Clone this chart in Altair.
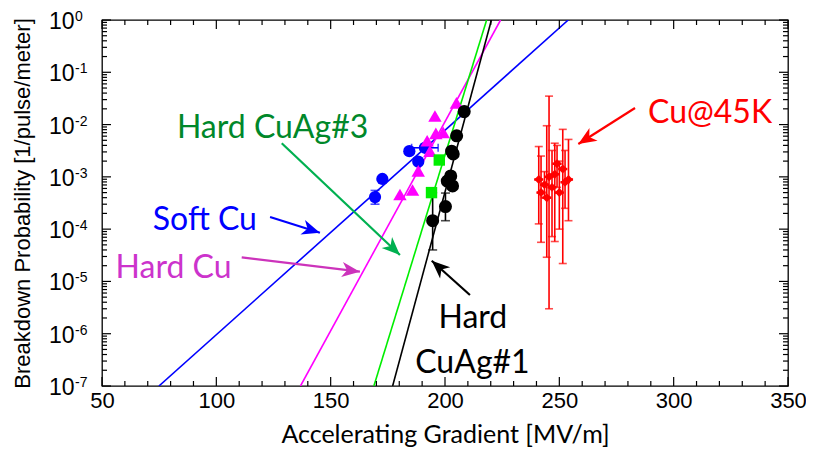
import math
import altair as alt
import pandas as pd

W, H = 686, 366
XMIN, XMAX = 50, 350
YMIN, YMAX = 1e-7, 1.0

# ---------------- data ----------------
soft_x = [169.4, 172.6, 184.4, 188.3, 191.2]
soft_y = [4.1e-4, 9.1e-4, 3.1e-3, 1.95e-3, 3.6e-3]

hardcu_x = [180.3, 185.8, 188.3, 193.4, 192.2, 196.0, 199.2, 195.6, 205.0]
hardcu_y = [4.6e-4, 5.6e-4, 1.3e-3, 3.1e-3, 4.9e-3, 6.8e-3, 7.1e-3, 1.46e-2, 2.6e-2]

cuag3_x = [197.5, 194.1]
cuag3_y = [2.1e-3, 5.0e-4]

cuag1_x = [208.4, 205.1, 202.9, 203.6, 202.5, 201.0, 203.3, 200.2, 194.6]
cuag1_y = [1.77e-2, 6.1e-3, 3.1e-3, 2.75e-3, 1.04e-3, 8.3e-4, 6.7e-4, 2.7e-4, 1.45e-4]

cu45_x = [241.0, 242.0, 243.5, 244.5, 245.5, 246.8, 248.0, 249.0, 250.0, 251.5, 252.5, 254.0]
cu45_y = [8.9e-4, 5.0e-4, 7.1e-4, 4.0e-4, 1.0e-3, 6.3e-4, 1.12e-3, 1.78e-3, 5.0e-4, 1.41e-3, 7.9e-4, 8.9e-4]
cu45_hi = [3.8e-3, 2.5e-3, 1.26e-3, 9.5e-3, 3.5e-2, 3.2e-3, 4.4e-3, 4.0e-3, 2.0e-3, 8.1e-3, 3.2e-3, 5.2e-3]
cu45_lo = [1.26e-4, 5.6e-5, 4.0e-4, 2.9e-5, 3.0e-6, 7.2e-5, 5.8e-5, 6.3e-4, 1.0e-4, 2.2e-5, 2.5e-4, 1.45e-4]
cu45_xerr = 2.0

# vertical error bars of other series: x, low, high
verr_x = [169.4, 200.2, 194.6]
verr_lo = [3.0e-4, 1.45e-4, 4.0e-5]
verr_hi = [5.5e-4, 4.9e-4, 5.0e-4]
verr_c = ["#0000ff", "#000000", "#000000"]

# horizontal error bars: y, low x, high x
herr_y = [3.6e-3]
herr_lo = [185.4]
herr_hi = [197.0]
herr_c = ["#0000ff"]

# fit lines: x where the fit reaches 1e-7 and 1e0
fit_names = ["Soft Cu", "Hard Cu", "Hard CuAg#3", "Hard CuAg#1"]
fit_x_low = [74.9, 136.8, 168.9, 177.1]
fit_x_high = [253.9, 224.3, 218.2, 220.3]
fit_colors = ["#0000ff", "#ff00ff", "#00ee00", "#000000"]

# annotations
lab_text = ["Hard CuAg#3", "Soft Cu", "Hard Cu", "Hard", "CuAg#1", "Cu@45K"]
lab_x = [124.6, 95.0, 81.3, 212.2, 212.0, 288.8]
lab_y = [10 ** -2.257, 10 ** -4.016, 10 ** -4.934, 10 ** -5.89, 10 ** -6.75, 10 ** -1.97]
lab_align = ["center", "center", "center", "center", "center", "left"]
lab_color = ["#00882a", "#0000ff", "#cc33cc", "#000000", "#000000", "#ff0000"]

arr_x = [128.6, 123.5, 111.1, 210.9, 283.1]
arr_y = [10 ** -2.358, 10 ** -3.768, 10 ** -4.539, 10 ** -5.26, 10 ** -1.683]
arr_x2 = [180.3, 145.3, 162.8, 194.2, 258.3]
arr_y2 = [10 ** -4.494, 10 ** -4.068, 10 ** -4.814, 10 ** -4.604, 10 ** -2.372]
arr_color = ["#00b050", "#0000ff", "#cc33bb", "#000000", "#ff0000"]

y_exps = [0, -1, -2, -3, -4, -5, -6, -7]
x_labels = [50, 100, 150, 200, 250, 300, 350]

# ---------------- helpers ----------------
xs = alt.Scale(domain=[XMIN, XMAX], nice=False, zero=False)
ys = alt.Scale(type="log", domain=[YMIN, YMAX], nice=False)
xax = alt.Axis(values=x_labels, format="d", ticks=False, domain=False, grid=False,
               labelFont="Liberation Sans", labelFontSize=22, labelColor="black",
               labelPadding=4, labelFlush=False,
               title="Accelerating Gradient [MV/m]", titleFont="Lato",
               titleFontSize=25, titleFontWeight="normal", titleColor="black",
               titleX=W / 2, titleY=56, titleAlign="center",
               titleBaseline="alphabetic")
yax = alt.Axis(labels=False, ticks=False, domain=False, grid=False,
               title="Breakdown Probability [1/pulse/meter]",
               titleFont="Liberation Sans", titleFontSize=22,
               titleFontWeight="normal", titleColor="black",
               titleX=-80, titleY=H / 2, titleAlign="center", titleBaseline="middle")


def X(f):
    return alt.X(f, type="quantitative", scale=xs, axis=xax)


def Y(f):
    return alt.Y(f, type="quantitative", scale=ys, axis=yax)


def px(x):
    return (x - XMIN) / (XMAX - XMIN) * W


def py(y):
    return (math.log10(YMAX) - math.log10(y)) / (math.log10(YMAX) - math.log10(YMIN)) * H


layers = []

# fit lines
fit_rows = []
for n, a, b, c in zip(fit_names, fit_x_low, fit_x_high, fit_colors):
    fit_rows.append({"name": n, "x": a, "y": YMIN, "c": c})
    fit_rows.append({"name": n, "x": b, "y": YMAX, "c": c})
fit_df = pd.DataFrame(fit_rows)
layers.append(alt.Chart(fit_df).mark_line(strokeWidth=1.6, clip=True).encode(
    x=X("x"), y=Y("y"), detail="name:N", color=alt.Color("c:N", scale=None)))

# arrows
angs = []
for a, b, c, d in zip(arr_x, arr_y, arr_x2, arr_y2):
    dx = px(c) - px(a)
    dy = py(d) - py(b)
    angs.append(math.degrees(math.atan2(dx, -dy)) % 360)
arr_df = pd.DataFrame({"x": arr_x, "y": arr_y, "x2": arr_x2, "y2": arr_y2,
                       "c": arr_color, "ang": angs})
layers.append(alt.Chart(arr_df).mark_rule(strokeWidth=2.2).encode(
    x=X("x"), y=Y("y"), x2=alt.X2("x2"), y2=alt.Y2("y2"),
    color=alt.Color("c:N", scale=None)))
head = "M0,0 L0.42,1 L0,0.72 L-0.42,1 Z"
layers.append(alt.Chart(arr_df).mark_point(shape=head, filled=True, size=1300, opacity=1,
                                           strokeWidth=0).encode(
    x=X("x2"), y=Y("y2"), angle=alt.Angle("ang:Q", scale=None),
    color=alt.Color("c:N", scale=None)))

# Cu@45K error bars
cu_df = pd.DataFrame({"x": cu45_x, "y": cu45_y, "lo": cu45_lo, "hi": cu45_hi,
                      "xl": [v - cu45_xerr for v in cu45_x],
                      "xh": [v + cu45_xerr for v in cu45_x]})
red = "#ff0000"
layers.append(alt.Chart(cu_df).mark_rule(color=red, strokeWidth=1.6).encode(
    x=X("x"), y=Y("lo"), y2=alt.Y2("hi")))
layers.append(alt.Chart(cu_df).mark_rule(color=red, strokeWidth=2.5).encode(
    x=X("xl"), x2=alt.X2("xh"), y=Y("y")))
layers.append(alt.Chart(cu_df).mark_tick(color=red, orient="horizontal", size=8, thickness=1.6).encode(
    x=X("x"), y=Y("lo")))
layers.append(alt.Chart(cu_df).mark_tick(color=red, orient="horizontal", size=8, thickness=1.6).encode(
    x=X("x"), y=Y("hi")))

# other error bars
ve_df = pd.DataFrame({"x": verr_x, "lo": verr_lo, "hi": verr_hi, "c": verr_c})
layers.append(alt.Chart(ve_df).mark_rule(strokeWidth=1.6).encode(
    x=X("x"), y=Y("lo"), y2=alt.Y2("hi"), color=alt.Color("c:N", scale=None)))
for col in ["lo", "hi"]:
    layers.append(alt.Chart(ve_df).mark_tick(orient="horizontal", size=9, thickness=1.6).encode(
        x=X("x"), y=Y(col), color=alt.Color("c:N", scale=None)))
he_df = pd.DataFrame({"y": herr_y, "lo": herr_lo, "hi": herr_hi, "c": herr_c})
layers.append(alt.Chart(he_df).mark_rule(strokeWidth=1.6).encode(
    x=X("lo"), x2=alt.X2("hi"), y=Y("y"), color=alt.Color("c:N", scale=None)))
for col in ["lo", "hi"]:
    layers.append(alt.Chart(he_df).mark_tick(orient="vertical", size=8, thickness=1.6).encode(
        x=X(col), y=Y("y"), color=alt.Color("c:N", scale=None)))


def pts(xv, yv, shape, size, color):
    df = pd.DataFrame({"x": xv, "y": yv})
    return alt.Chart(df).mark_point(shape=shape, size=size, filled=True, opacity=1,
                                    color=color, strokeWidth=0).encode(x=X("x"), y=Y("y"))


layers.append(pts(cu45_x, cu45_y, "diamond", 80, red))
layers.append(pts(soft_x, soft_y, "circle", 150, "#0000ff"))
layers.append(pts(hardcu_x, hardcu_y, "triangle-up", 180, "#ff00ff"))
layers.append(pts(cuag3_x, cuag3_y, "square", 130, "#00ee00"))
layers.append(pts(cuag1_x, cuag1_y, "circle", 170, "#000000"))

# annotation texts
for al in ["center", "left"]:
    rows = [(t, x, y, c) for t, x, y, a, c in zip(lab_text, lab_x, lab_y, lab_align, lab_color) if a == al]
    tdf = pd.DataFrame(rows, columns=["t", "x", "y", "c"])
    layers.append(alt.Chart(tdf).mark_text(font="Lato", fontSize=32, align=al,
                                           baseline="alphabetic").encode(
        x=X("x"), y=Y("y"), text="t:N", color=alt.Color("c:N", scale=None)))

# inward ticks on all four sides
x_major = list(range(50, 351, 50))
x_minor = [v for v in range(60, 350, 10) if v % 50 != 0]
y_major = [10.0 ** e for e in range(-7, 1)]
y_minor = [m * 10.0 ** e for e in range(-7, 0) for m in range(2, 10)]
MAJ, MIN = 9, 5
for vals, ln in [(x_major, MAJ), (x_minor, MIN)]:
    df = pd.DataFrame({"v": vals})
    layers.append(alt.Chart(df).mark_rule(color="black", strokeWidth=1.2).encode(
        x=X("v"), y=alt.value(H), y2=alt.value(H - ln)))
    layers.append(alt.Chart(df).mark_rule(color="black", strokeWidth=1.2).encode(
        x=X("v"), y=alt.value(0), y2=alt.value(ln)))
for vals, ln in [(y_major, MAJ), (y_minor, MIN)]:
    df = pd.DataFrame({"v": vals})
    layers.append(alt.Chart(df).mark_rule(color="black", strokeWidth=1.2).encode(
        y=Y("v"), x=alt.value(0), x2=alt.value(ln)))
    layers.append(alt.Chart(df).mark_rule(color="black", strokeWidth=1.2).encode(
        y=Y("v"), x=alt.value(W), x2=alt.value(W - ln)))

# y tick labels 10^n
ydf = pd.DataFrame({"v": [10.0 ** e for e in y_exps], "base": ["10"] * len(y_exps),
                    "ex": [str(e) for e in y_exps]})
layers.append(alt.Chart(ydf).mark_text(font="Liberation Sans", fontSize=23, align="left",
                                       baseline="middle", color="black", dy=2).encode(
    y=Y("v"), x=alt.value(-53), text="base:N"))
layers.append(alt.Chart(ydf).mark_text(font="Liberation Sans", fontSize=14, align="left",
                                       baseline="middle", color="black", dy=-3).encode(
    y=Y("v"), x=alt.value(-27), text="ex:N"))

chart = alt.layer(*layers).properties(
    width=W, height=H,
    autosize=alt.AutoSizeParams(type="none"),
    padding={"left": 94, "top": 12, "right": 18, "bottom": 66},
    background="white",
).configure_view(stroke="black", strokeWidth=1.3)

chart.save("out.html", embed_options={"renderer": "svg", "actions": False})
